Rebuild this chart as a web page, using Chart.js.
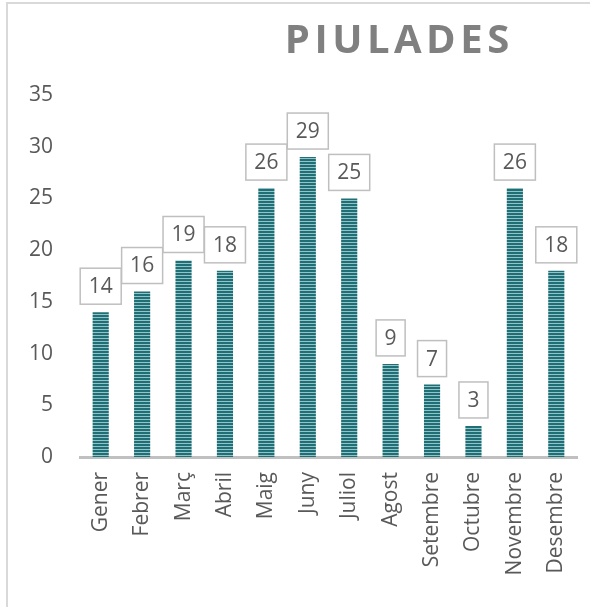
<!DOCTYPE html>
<html>
<head>
<meta charset="utf-8">
<script src="https://cdn.jsdelivr.net/npm/chart.js@4/dist/chart.umd.min.js"></script>
<style>
  html, body { margin: 0; padding: 0; background: #fff; }
  #wrap { position: relative; width: 590px; height: 607px; overflow: hidden; }
  #frame { position: absolute; left: 6px; top: 2px; width: 600px; height: 620px;
           border-left: 2px solid #d9d9d9; border-top: 2px solid #d9d9d9; }
  canvas { position: absolute; left: 0; top: 0; }
</style>
</head>
<body>
<div id="wrap">
  <div id="frame"></div>
  <canvas id="c" width="590" height="607"></canvas>
</div>
<script>
const chartTitle = 'PIULADES';
const categories = ['Gener','Febrer','Març','Abril','Maig','Juny','Juliol','Agost','Setembre','Octubre','Novembre','Desembre'];
const values = [14, 16, 19, 18, 26, 29, 25, 9, 7, 3, 26, 18];
const yTicks = [0, 5, 10, 15, 20, 25, 30, 35];

const FONT = '"Open Sans", "DejaVu Sans", sans-serif';
const TEXT = '#595959';

// Striped fill pattern
function makePattern() {
  const p = document.createElement('canvas');
  p.width = 4; p.height = 3;
  const g = p.getContext('2d');
  g.fillStyle = '#216f76'; g.fillRect(0, 0, 4, 2);
  g.fillStyle = '#92c4c7'; g.fillRect(0, 2, 4, 1);
  return document.getElementById('c').getContext('2d').createPattern(p, 'repeat');
}

const labelBoxes = {
  id: 'labelBoxes',
  afterDatasetsDraw(chart) {
    const ctx = chart.ctx;
    const meta = chart.getDatasetMeta(0);
    ctx.save();
    ctx.font = '21px ' + FONT;
    ctx.textAlign = 'center';
    ctx.textBaseline = 'middle';
    meta.data.forEach((el, i) => {
      const txt = String(chart.data.datasets[0].data[i]);
      const w = ctx.measureText(txt).width + 17;
      const h = 36;
      const bottom = el.y - 8;
      const x0 = el.x - w / 2;
      ctx.fillStyle = '#ffffff';
      ctx.fillRect(x0, bottom - h, w, h);
      ctx.strokeStyle = '#bfbfbf';
      ctx.lineWidth = 1.5;
      ctx.strokeRect(x0, bottom - h, w, h);
      ctx.fillStyle = TEXT;
      ctx.fillText(txt, el.x, bottom - h / 2 + 1);
    });
    ctx.restore();
  }
};

const titlePlugin = {
  id: 'titlePlugin',
  afterDraw(chart) {
    const ctx = chart.ctx;
    ctx.save();
    ctx.font = 'bold 40px ' + FONT;
    ctx.fillStyle = '#808080';
    ctx.textBaseline = 'alphabetic';
    ctx.textAlign = 'left';
    try { ctx.letterSpacing = '4.5px'; } catch (e) {}
    const w = ctx.measureText(chartTitle).width - 4.5;
    ctx.fillText(chartTitle, 397 - w / 2, 53);
    ctx.restore();
  }
};

new Chart(document.getElementById('c'), {
  type: 'bar',
  data: {
    labels: categories,
    datasets: [{
      data: values,
      backgroundColor: makePattern(),
      borderWidth: 0,
      barPercentage: 0.39,
      categoryPercentage: 1.0
    }]
  },
  options: {
    responsive: false,
    animation: false,
    layout: { padding: { top: 95, right: 13, left: 0, bottom: 0 } },
    plugins: {
      legend: { display: false },
      title: { display: false },
      tooltip: { enabled: false }
    },
    scales: {
      x: {
        grid: { display: false },
        border: { display: true, color: '#c0c0c0', width: 3 },
        ticks: {
          color: TEXT, font: { family: FONT, size: 21 },
          minRotation: 90, maxRotation: 90, padding: 7, autoSkip: false
        },
        afterFit(scale) { scale.height = 150; }
      },
      y: {
        min: 0, max: 35,
        grid: { display: false },
        border: { display: false },
        afterBuildTicks(scale) { scale.ticks = yTicks.map(v => ({ value: v })); },
        ticks: { color: TEXT, font: { family: FONT, size: 21 }, padding: 19 },
        afterFit(scale) { scale.width = 80; }
      }
    }
  },
  plugins: [labelBoxes, titlePlugin]
});
</script>
</body>
</html>
